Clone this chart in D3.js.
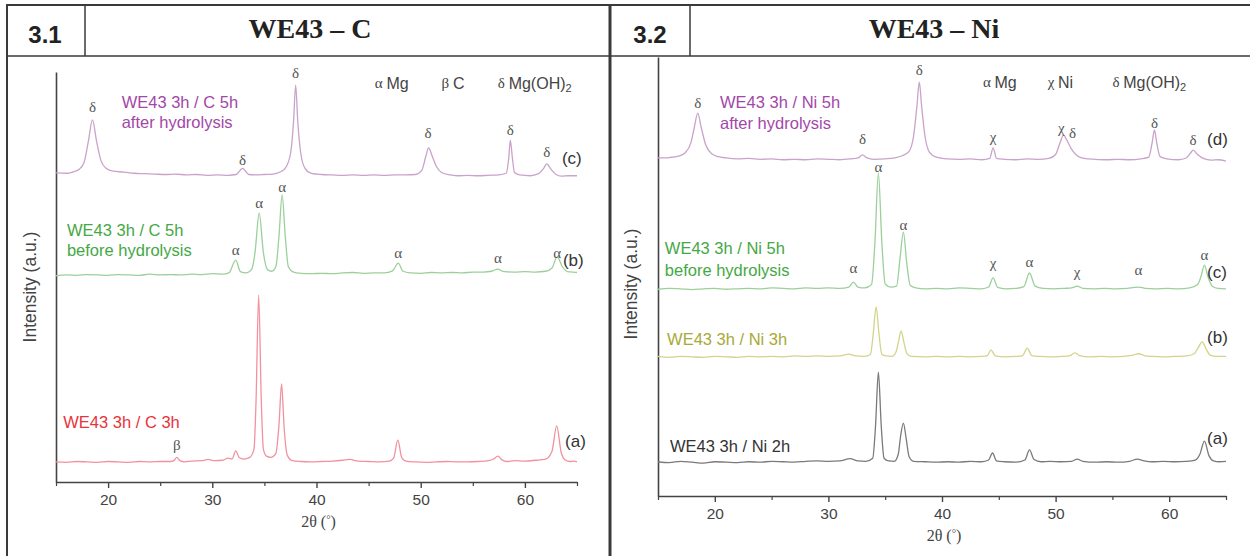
<!DOCTYPE html>
<html><head><meta charset="utf-8">
<script src="https://cdn.jsdelivr.net/npm/d3@7"></script>
<style>body{margin:0;background:#fff}svg{display:block}</style>
</head><body>
<svg id="chart" width="1250" height="556"></svg>
<script>
// ---------- shared axis data ----------
const xDomain = [15, 65];
const xTicksMajor = [20, 30, 40, 50, 60];
const xTicksMinor = [15, 25, 35, 45, 55, 65];
const yDomain = [0, 100];

// ---------- Panel 3.1 : WE43 – C  (2θ, intensity a.u., stacked) ----------
const c3h = [[15,4.9],[16,4.8],[17,5.0],[18,4.9],[19,4.8],[20,5.0],[21,4.9],[22,4.8],[23,5.0],[24,4.9],[25,5.0],[26,5.0],[26.3,5.2],[26.6,6.0],[26.9,5.2],[27.3,4.9],[28,5.1],[29,5.2],[29.6,5.5],[30.2,5.2],[31,5.3],[31.5,5.8],[31.9,5.6],[32.25,7.6],[32.6,5.9],[33.0,5.6],[33.6,6.0],[34.0,8],[34.2,20],[34.45,45.6],[34.7,20],[34.9,8],[35.2,6.3],[35.6,6.0],[36.1,7.0],[36.4,14],[36.65,23.9],[36.9,13],[37.2,6.5],[37.6,5.3],[38.5,5.0],[39.5,4.9],[40.5,5.0],[41.5,5.1],[42.5,5.3],[43.2,5.5],[44,5.1],[45,5.0],[46,4.9],[47,5.1],[47.4,5.8],[47.8,10.2],[48.2,5.8],[48.6,5.1],[49.5,4.9],[50.5,4.8],[51.5,4.9],[52.5,5.0],[53.5,4.9],[54.5,4.9],[55.5,5.0],[56.5,5.2],[57.0,5.6],[57.4,6.3],[57.8,5.4],[58.3,5.0],[59,5.2],[60,5.1],[61,5.3],[62,5.6],[62.6,7.5],[63.05,13.7],[63.5,7.0],[63.9,5.3],[64.3,5.0],[64.7,5.1],[65,4.9]];
const c5hBefore = [[15,50.3],[16,50.5],[17,50.4],[18,50.6],[19,50.5],[20,50.4],[21,50.6],[22,50.5],[23,50.4],[24,50.7],[25,50.5],[26,50.6],[27,50.5],[28,50.7],[29,50.6],[30,50.8],[31,50.7],[31.6,51.0],[32.25,54.1],[32.7,51.3],[33.2,51.0],[33.8,52],[34.1,56],[34.5,65.6],[34.9,56],[35.3,51.8],[35.7,51.4],[36.1,52.5],[36.4,60],[36.7,70],[37.0,60],[37.3,52.5],[37.8,51.2],[38.5,50.9],[39.5,50.8],[40.5,50.9],[41.5,50.8],[42.5,51.0],[43.5,51.1],[44.5,50.9],[45.5,51.0],[46.5,51.0],[47.3,51.5],[47.85,53.4],[48.3,51.4],[49,51.0],[50,50.9],[51,51.1],[52,51.0],[53,51.1],[54,51.0],[55,51.2],[56,51.2],[56.8,51.4],[57.4,51.9],[58.0,51.3],[59,51.2],[60,51.3],[61,51.2],[62,51.4],[62.6,52.2],[63.1,54.9],[63.6,52.5],[64.1,51.3],[64.6,51.2],[65,51.1]];
const c5hAfter = [[15,75.4],[16,75.3],[16.6,75.6],[17.2,76.2],[17.7,78],[18.1,83],[18.5,88.3],[18.9,83],[19.3,78.5],[19.8,76.5],[20.5,75.8],[21.5,75.6],[22.5,75.3],[23.5,75.2],[24.5,75.1],[25.5,75.0],[26.5,75.1],[27.5,74.9],[28.5,75.0],[29.5,74.8],[30.5,74.9],[31.5,74.8],[32.3,75.0],[32.9,76.5],[33.5,75.0],[34.2,74.9],[35.0,75.0],[35.8,75.1],[36.5,75.6],[37.0,76.5],[37.5,80],[37.8,88],[38.0,96.8],[38.2,88],[38.5,80],[38.9,76.5],[39.5,75.3],[40.5,75.0],[41.5,74.9],[42.5,74.8],[43.5,74.9],[44.5,74.8],[45.5,74.9],[46.5,74.8],[47.5,74.9],[48.5,74.9],[49.5,75.0],[50.1,76.0],[50.5,79.5],[50.75,81.5],[51.1,79.5],[51.5,77],[52.0,75.5],[52.8,74.9],[53.5,74.7],[54.5,74.8],[55.5,74.7],[56.5,74.8],[57.5,74.9],[58.2,75.3],[58.45,79],[58.6,83.4],[58.8,79],[59.0,75.5],[59.5,74.9],[60.5,74.7],[61.3,75.2],[61.8,76.5],[62.1,77.6],[62.5,76.3],[63.0,75.0],[63.5,74.6],[64.2,74.7],[65,74.7]];

const cPeakLabels = [["δ",18.5,91.5],["δ",32.9,78.5],["δ",38.0,99.8],["δ",50.7,85.1],["δ",58.6,85.9],["δ",62.1,80.5],
  ["α",32.25,56.6],["α",34.5,68.0],["α",36.7,72.0],["α",47.85,55.9],["α",57.4,54.6],["α",63.1,55.9],
  ["β",26.6,9.0]];
const cCurveTags = [["(c)",63.55,78.8],["(b)",63.65,54.1],["(a)",63.85,9.8]];
const cSeriesNames = [["WE43 3h / C 5h",21.3,92.7,"after"],["after hydrolysis",21.3,87.8,"after"],
  ["WE43 3h / C 5h",16.05,61.5,"before"],["before hydrolysis",16.05,56.6,"before"],
  ["WE43 3h / C 3h",15.7,14.6,"c3h"]];
const cLegend = [["α","Mg","",45.6],["β","C","",52.0],["δ","Mg(OH)","2",57.4]];
const cLegendY = 97.3;

// ---------- Panel 3.2 : WE43 – Ni ----------
const ni2h = [[15,7.8],[16,7.6],[17,7.9],[18,7.7],[19,7.5],[20,7.8],[21,7.7],[22,7.6],[23,7.8],[24,7.7],[25,7.9],[26,7.8],[27,7.7],[28,7.9],[29,8.0],[30,7.9],[31,8.0],[31.9,8.5],[32.6,8.0],[33.3,7.9],[33.9,8.6],[34.15,16],[34.4,28.2],[34.65,16],[34.9,8.6],[35.3,8.0],[35.8,7.9],[36.15,9.5],[36.35,13.5],[36.6,16.6],[36.85,13],[37.1,9],[37.5,7.9],[38.5,7.8],[39.5,7.7],[40.5,7.8],[41.5,7.7],[42.5,7.9],[43.5,7.8],[44.1,8.2],[44.45,9.8],[44.8,8.0],[45.5,7.8],[46.5,7.7],[47.3,8.2],[47.7,10.5],[48.1,8.3],[48.7,7.8],[49.5,7.9],[50.5,7.8],[51.4,7.9],[51.9,8.4],[52.4,7.9],[53.5,7.7],[54.5,7.8],[55.5,7.7],[56.5,7.9],[57.2,8.4],[57.8,8.0],[58.5,7.8],[59.5,7.9],[60.5,7.8],[61.5,7.9],[62.3,8.2],[62.7,9.5],[63.1,12.5],[63.5,9.2],[63.9,8.0],[64.4,7.8],[65,7.9]];
const ni3h = [[15,31.8],[16,31.6],[17,31.8],[18,31.7],[19,31.6],[20,31.8],[21,31.7],[22,31.6],[23,31.8],[24,31.7],[25,31.8],[26,31.7],[27,31.9],[28,31.8],[29,31.9],[30,31.8],[31,31.9],[31.8,32.3],[32.4,31.9],[33.2,31.8],[33.7,32.3],[33.95,37],[34.2,43.1],[34.45,37],[34.7,32.3],[35.1,31.9],[35.6,31.8],[35.95,32.8],[36.2,35.5],[36.4,37.6],[36.65,35],[36.9,32.5],[37.3,31.8],[38.5,31.7],[39.5,31.8],[40.5,31.7],[41.5,31.8],[42.5,31.7],[43.5,31.8],[44.0,32.0],[44.3,33.3],[44.7,31.9],[45.5,31.7],[46.5,31.8],[47.1,32.0],[47.5,33.7],[47.9,32.0],[48.6,31.8],[49.5,31.7],[50.5,31.8],[51.2,31.9],[51.7,32.6],[52.2,31.9],[53,31.7],[54,31.8],[55,31.7],[56,31.8],[56.8,32.1],[57.3,32.4],[57.8,32.0],[58.5,31.8],[59.5,31.7],[60.5,31.8],[61.5,31.9],[62.2,32.4],[62.55,33.8],[62.9,35.1],[63.25,33.5],[63.6,32.1],[64.2,31.8],[65,31.8]];
const ni5hBefore = [[15,47.1],[16,47.3],[17,47.2],[18,47.0],[19,47.2],[20,47.3],[21,47.1],[22,47.2],[23,47.3],[24,47.2],[25,47.4],[26,47.3],[27,47.2],[28,47.4],[29,47.3],[30,47.4],[31,47.3],[31.8,47.6],[32.2,48.7],[32.6,47.6],[33.2,47.4],[33.8,48.2],[34.1,58],[34.4,73.6],[34.7,58],[35.0,48.3],[35.5,47.6],[36.0,47.8],[36.3,54],[36.6,60.1],[36.9,53],[37.2,48],[37.7,47.4],[38.5,47.2],[39.5,47.3],[40.5,47.2],[41.5,47.4],[42.5,47.3],[43.5,47.2],[44.1,47.6],[44.5,49.7],[44.9,47.5],[45.6,47.2],[46.5,47.3],[47.2,47.7],[47.7,50.8],[48.2,47.8],[48.9,47.3],[49.8,47.2],[50.8,47.3],[51.4,47.4],[51.9,47.8],[52.4,47.3],[53.3,47.2],[54.3,47.3],[55.3,47.2],[56.3,47.3],[56.9,47.5],[57.3,47.6],[57.9,47.3],[58.8,47.2],[59.8,47.3],[60.8,47.2],[61.8,47.4],[62.5,48.2],[62.8,50],[63.1,52.6],[63.4,50],[63.8,47.8],[64.3,47.3],[65,47.2]];
const ni5hAfter = [[15,77.0],[16,77.1],[16.8,77.4],[17.4,78.2],[17.9,80.5],[18.2,84],[18.5,87.2],[18.8,84],[19.2,80],[19.7,78],[20.3,77.3],[21,77.0],[22,76.8],[23,76.9],[24,76.7],[25,76.8],[26,76.6],[27,76.7],[28,76.6],[29,76.8],[30,76.7],[31,76.6],[32,76.8],[32.6,77.0],[33.0,77.7],[33.4,77.0],[34,76.7],[35,76.8],[35.8,77.0],[36.5,77.5],[37.1,78.5],[37.5,82],[37.8,89],[38.0,94.3],[38.2,89],[38.5,82],[38.9,78.3],[39.5,77.2],[40.5,76.8],[41.5,76.7],[42.5,76.8],[43.5,76.6],[44.2,76.9],[44.5,79.3],[44.8,76.9],[45.5,76.7],[46.5,76.6],[47.5,76.8],[48.5,76.7],[49.4,76.9],[50.0,77.8],[50.4,80.5],[50.7,82.2],[51.0,81],[51.4,79],[51.9,77.5],[52.5,76.9],[53.5,76.7],[54.5,76.6],[55.5,76.7],[56.5,76.6],[57.5,76.8],[58.2,77.2],[58.5,80.5],[58.7,83.4],[58.9,80.5],[59.2,77.3],[59.8,76.8],[60.8,76.6],[61.5,77.0],[61.9,78.2],[62.1,78.8],[62.5,77.8],[63.0,76.9],[63.7,76.5],[64.3,76.6],[65,76.3]];

const niPeakLabels = [["δ",18.5,89.5],["δ",33.0,81.3],["δ",38.0,97.0],["χ",44.5,81.8],["χ",50.5,83.8],["δ",51.5,82.7],["δ",58.7,85.0],["δ",62.1,81.1],
  ["α",32.2,51.9],["α",34.4,74.9],["α",36.6,61.7],["χ",44.5,53.1],["α",47.7,53.3],["χ",51.9,51.0],["α",57.3,51.5],["α",63.1,54.9]];
const niCurveTags = [["(d)",63.33,81.1],["(c)",63.33,51.0],["(b)",63.33,36.0],["(a)",63.33,13.0]];
const niSeriesNames = [["WE43 3h / Ni 5h",20.46,89.7,"after"],["after hydrolysis",20.46,85.0,"after"],
  ["WE43 3h / Ni 5h",15.6,56.5,"before"],["before hydrolysis",15.6,51.5,"before"],
  ["WE43 3h / Ni 3h",15.8,35.8,"ni3h"],["WE43 3h / Ni 2h",16.06,11.4,"ni2h"]];
const niLegend = [["α","Mg","",43.6],["χ","Ni","",49.3],["δ","Mg(OH)","2",55.0]];
const niLegendY = 94.3;

// ---------- styles ----------
const lineColor = {after:"#c9a3c9", before:"#9ccf9c", c3h:"#f2919f", ni3h:"#d3d38c", ni2h:"#7a7a7a"};
const textColor = {after:"#a347a8", before:"#45a845", c3h:"#e8333c", ni3h:"#a9a93a", ni2h:"#333333"};
const SANS = "'Liberation Sans', Arial, sans-serif";
const SERIF = "'Liberation Serif', 'Times New Roman', serif";

const svg = d3.select("#chart");

// ---------- frame / header ----------
const frame = svg.append("g").attr("stroke","#3a3a3a").attr("fill","none");
frame.append("line").attr("x1",6).attr("x2",1250).attr("y1",5).attr("y2",5).attr("stroke-width",2);
frame.append("line").attr("x1",7).attr("x2",7).attr("y1",5).attr("y2",556).attr("stroke-width",2);
frame.append("line").attr("x1",6).attr("x2",1250).attr("y1",56).attr("y2",56).attr("stroke-width",1.5);
frame.append("line").attr("x1",85).attr("x2",85).attr("y1",5).attr("y2",56).attr("stroke-width",1.5);
frame.append("line").attr("x1",610).attr("x2",610).attr("y1",5).attr("y2",556).attr("stroke-width",3);
frame.append("line").attr("x1",690).attr("x2",690).attr("y1",5).attr("y2",56).attr("stroke-width",1.5);

svg.append("text").attr("x",45).attr("y",43).attr("text-anchor","middle").attr("font-family",SANS)
  .attr("font-weight","bold").attr("font-size",24).attr("fill","#222").text("3.1");
svg.append("text").attr("x",650).attr("y",43).attr("text-anchor","middle").attr("font-family",SANS)
  .attr("font-weight","bold").attr("font-size",24).attr("fill","#222").text("3.2");
svg.append("text").attr("x",310).attr("y",38).attr("text-anchor","middle").attr("font-family",SERIF)
  .attr("font-weight","bold").attr("font-size",28).attr("fill","#222").text("WE43 – C");
svg.append("text").attr("x",934).attr("y",38).attr("text-anchor","middle").attr("font-family",SERIF)
  .attr("font-weight","bold").attr("font-size",28).attr("fill","#222").text("WE43 – Ni");

// ---------- panel drawing ----------
function drawPanel(cfg){
  const x = d3.scaleLinear().domain(xDomain).range(cfg.xr);
  const y = d3.scaleLinear().domain(yDomain).range(cfg.yr);
  const g = svg.append("g");

  // axes
  const xa = g.append("g").attr("transform",`translate(0,${cfg.yr[0]})`)
    .call(d3.axisBottom(x).tickValues(xTicksMajor).tickSizeInner(6).tickSizeOuter(0).tickPadding(6).tickFormat(d3.format("d")));
  xa.select(".domain").attr("stroke","#444").attr("stroke-width",1.6);
  xa.selectAll(".tick line").attr("stroke","#444").attr("stroke-width",1.4);
  xa.selectAll(".tick text").attr("font-family",SANS).attr("font-size",15.5).attr("fill","#444");
  const xm = g.append("g").attr("transform",`translate(0,${cfg.yr[0]})`)
    .call(d3.axisBottom(x).tickValues(xTicksMinor).tickSize(4).tickFormat(""));
  xm.select(".domain").remove();
  xm.selectAll(".tick line").attr("stroke","#444").attr("stroke-width",1.2);

  const ya = g.append("g").attr("transform",`translate(${cfg.xr[0]},0)`)
    .call(d3.axisLeft(y).tickValues([]).tickSizeOuter(0));
  ya.select(".domain").attr("stroke","#444").attr("stroke-width",1.6);

  g.append("text").attr("transform",`translate(${cfg.ylabX},${cfg.ylabY}) rotate(-90)`)
    .attr("text-anchor","middle").attr("font-family",SANS).attr("font-size",17.5).attr("fill","#444")
    .text("Intensity (a.u.)");
  const xl = g.append("text").attr("x",(cfg.xr[0]+cfg.xr[1])/2+2).attr("y",cfg.xlabY).attr("text-anchor","middle")
    .attr("font-family",SERIF).attr("font-size",16).attr("fill","#444");
  xl.append("tspan").text("2θ (");
  xl.append("tspan").attr("font-size",11).attr("dy",-4).text("°");
  xl.append("tspan").attr("dy",4).text(")");

  // traces
  const line = d3.line().x(d=>x(d[0])).y(d=>y(d[1])).curve(d3.curveMonotoneX);
  cfg.series.forEach(s=>{
    g.append("path").datum(s.data).attr("d",line).attr("fill","none")
      .attr("stroke",lineColor[s.key]).attr("stroke-width",1.3).attr("stroke-linejoin","round");
  });

  // peak labels
  g.selectAll(null).data(cfg.peaks).join("text")
    .attr("x",d=>x(d[1])).attr("y",d=>y(d[2])).attr("text-anchor","middle").attr("dominant-baseline","central")
    .attr("font-family",SERIF).attr("font-size",15).attr("fill","#555").text(d=>d[0]);

  // curve tags (a),(b)...
  g.selectAll(null).data(cfg.tags).join("text")
    .attr("x",d=>x(d[1])).attr("y",d=>y(d[2])).attr("dominant-baseline","central")
    .attr("font-family",SANS).attr("font-size",17).attr("fill","#333").text(d=>d[0]);

  // series names
  g.selectAll(null).data(cfg.names).join("text")
    .attr("x",d=>x(d[1])).attr("y",d=>y(d[2])).attr("dominant-baseline","central")
    .attr("font-family",SANS).attr("font-size",16.5).attr("fill",d=>textColor[d[3]]).text(d=>d[0]);

  // legend
  cfg.legend.forEach(l=>{
    const t = g.append("text").attr("x",x(l[3])).attr("y",y(cfg.legendY)).attr("dominant-baseline","central")
      .attr("fill","#444").attr("font-size",16).attr("font-family",SANS);
    t.append("tspan").attr("font-family",SERIF).attr("font-size",15).text(l[0]+" ");
    t.append("tspan").text(l[1]);
    if(l[2]) t.append("tspan").attr("font-size",11).attr("dy",5).text(l[2]);
  });
}

drawPanel({xr:[56,577], yr:[482,72], ylabX:36, ylabY:287, xlabY:527,
  series:[{data:c3h,key:"c3h"},{data:c5hBefore,key:"before"},{data:c5hAfter,key:"after"}],
  peaks:cPeakLabels, tags:cCurveTags, names:cSeriesNames, legend:cLegend, legendY:cLegendY});
drawPanel({xr:[658,1226], yr:[496,57], ylabX:637, ylabY:284, xlabY:541,
  series:[{data:ni2h,key:"ni2h"},{data:ni3h,key:"ni3h"},{data:ni5hBefore,key:"before"},{data:ni5hAfter,key:"after"}],
  peaks:niPeakLabels, tags:niCurveTags, names:niSeriesNames, legend:niLegend, legendY:niLegendY});
</script>
</body></html>
